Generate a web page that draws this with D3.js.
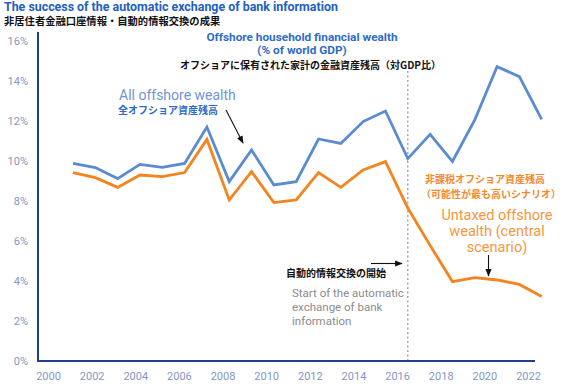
<!DOCTYPE html>
<html>
<head>
<meta charset="utf-8">
<script src="https://cdn.jsdelivr.net/npm/d3@7"></script>
<style>
  body { margin: 0; background: #fff; }
  text { font-family: Roboto, "Noto Sans CJK JP", sans-serif; }
  .jp { font-family: "Noto Sans CJK JP", sans-serif; font-weight: bold; }
</style>
</head>
<body>
<div id="chart"></div>
<script>
'use strict';

var years = [2001, 2002, 2003, 2004, 2005, 2006, 2007, 2008, 2009, 2010, 2011,
             2012, 2013, 2014, 2015, 2016, 2017, 2018, 2019, 2020, 2021, 2022];
var allOffshore = [9.88, 9.67, 9.12, 9.83, 9.68, 9.88, 11.7, 8.97, 10.55, 8.8, 8.97,
                   11.1, 10.88, 11.97, 12.5, 10.12, 11.33, 9.98, 12.05, 14.72, 14.22, 12.08];
var untaxed = [9.42, 9.17, 8.68, 9.3, 9.22, 9.42, 11.08, 8.05, 9.47, 7.92, 8.05,
               9.42, 8.68, 9.55, 9.97, 7.65, 5.78, 3.97, 4.17, 4.05, 3.83, 3.22];
var xTicks = [2000, 2002, 2004, 2006, 2008, 2010, 2012, 2014, 2016, 2018, 2020, 2022];
var yTicks = [0, 2, 4, 6, 8, 10, 12, 14, 16];
var aeoiYear = 2016;

var svgWidth = 567;
var svgHeight = 389;

var svg = d3.select("#chart").append("svg")
    .attr("width", svgWidth)
    .attr("height", svgHeight);

// scales: data points and the category labels sit slightly apart in the original
var x = d3.scaleLinear().domain([2001, 2022]).range([73, 541.7]);
var xLabel = d3.scaleLinear().domain([2000, 2022]).range([48, 528]);
var y = d3.scaleLinear().domain([0, 16]).range([361, 41]);

// axes
var axisColor = "#1f3f8f";
var labelColor = "#8497c6";

svg.append("line")
    .attr("x1", 38).attr("x2", 38)
    .attr("y1", 32).attr("y2", y(0))
    .attr("stroke", axisColor).attr("stroke-width", 2);
svg.append("line")
    .attr("x1", 37).attr("x2", 535)
    .attr("y1", y(0)).attr("y2", y(0))
    .attr("stroke", axisColor).attr("stroke-width", 2);

var yAxis = svg.append("g")
    .attr("transform", "translate(28,0)")
    .call(d3.axisLeft(y).tickValues(yTicks).tickSize(0).tickPadding(0)
      .tickFormat(function(d) { return d + "%"; }));
yAxis.select(".domain").remove();
yAxis.selectAll("text")
    .attr("fill", labelColor)
    .style("font-size", "11px")
    .style("font-family", "Roboto");

var xAxis = svg.append("g")
    .attr("transform", "translate(0,372)")
    .call(d3.axisBottom(xLabel).tickValues(xTicks).tickSize(0).tickPadding(0)
      .tickFormat(d3.format("d")));
xAxis.select(".domain").remove();
xAxis.selectAll("text")
    .attr("fill", labelColor)
    .style("font-size", "11px")
    .style("font-family", "Roboto");

// dotted line for start of AEOI
svg.append("line")
    .attr("x1", x(aeoiYear)).attr("x2", x(aeoiYear))
    .attr("y1", 71).attr("y2", y(0) - 1)
    .attr("stroke", "#9a9a9a")
    .attr("stroke-width", 1.3)
    .attr("stroke-dasharray", "2,2.5");

// lines
var line = function(vals) {
  return d3.line()
    .x(function(d, i) { return x(years[i]); })
    .y(function(d) { return y(d); })(vals);
};

svg.append("path")
    .attr("d", line(allOffshore))
    .attr("fill", "none")
    .attr("stroke", "#5b8bd0")
    .attr("stroke-width", 2.8)
    .attr("stroke-linejoin", "miter");

svg.append("path")
    .attr("d", line(untaxed))
    .attr("fill", "none")
    .attr("stroke", "#f5841f")
    .attr("stroke-width", 2.8)
    .attr("stroke-linejoin", "miter");

// arrow marker
svg.append("defs").append("marker")
    .attr("id", "arrow")
    .attr("viewBox", "0 0 10 10")
    .attr("refX", 9).attr("refY", 5)
    .attr("markerWidth", 7).attr("markerHeight", 7)
    .attr("orient", "auto")
  .append("path")
    .attr("d", "M0,1 L10,5 L0,9 z")
    .attr("fill", "#111");

function arrow(x1, y1, x2, y2) {
  svg.append("line")
      .attr("x1", x1).attr("y1", y1)
      .attr("x2", x2).attr("y2", y2)
      .attr("stroke", "#111").attr("stroke-width", 1.1)
      .attr("marker-end", "url(#arrow)");
}

// titles
svg.append("text")
    .attr("x", 4).attr("y", 11)
    .attr("fill", "#2260c0")
    .style("font-weight", "bold").style("font-size", "12.4px")
    .text("The success of the automatic exchange of bank information");
svg.append("text").attr("class", "jp")
    .attr("x", 4).attr("y", 25)
    .attr("fill", "#111").style("font-size", "10.3px")
    .text("非居住者金融口座情報・自動的情報交換の成果");

svg.append("text")
    .attr("x", 302).attr("y", 40.5)
    .attr("text-anchor", "middle")
    .attr("fill", "#2f6cc4")
    .style("font-weight", "bold").style("font-size", "11.8px")
    .text("Offshore household financial wealth");
svg.append("text")
    .attr("x", 302).attr("y", 53.5)
    .attr("text-anchor", "middle")
    .attr("fill", "#2f6cc4")
    .style("font-weight", "bold").style("font-size", "11.8px")
    .text("(% of world GDP)");
svg.append("text").attr("class", "jp")
    .attr("x", 180).attr("y", 68.5)
    .attr("fill", "#111").style("font-size", "10px")
    .text("オフショアに保有された家計の金融資産残高（対GDP比）");

// all offshore label
svg.append("text")
    .attr("x", 119).attr("y", 100)
    .attr("fill", "#6f96d4").style("font-size", "14px")
    .text("All offshore wealth");
svg.append("text").attr("class", "jp")
    .attr("x", 118).attr("y", 114)
    .attr("fill", "#2f6cc4").style("font-size", "10px")
    .text("全オフショア資産残高");
arrow(226, 110, 243, 143);

// untaxed label
svg.append("text").attr("class", "jp")
    .attr("x", 425).attr("y", 183)
    .attr("fill", "#f5892c").style("font-size", "10px")
    .text("非課税オフショア資産残高");
svg.append("text").attr("class", "jp")
    .attr("x", 421).attr("y", 198)
    .attr("fill", "#f5892c").style("font-size", "10px")
    .text("（可能性が最も高いシナリオ）");
["Untaxed offshore", "wealth (central", "scenario)"].forEach(function(t, i) {
  svg.append("text")
      .attr("x", 497).attr("y", 220 + i * 16)
      .attr("text-anchor", "middle")
      .attr("fill", "#f5973f").style("font-size", "14.5px")
      .text(t);
});
arrow(488.5, 255, 488.5, 276);

// AEOI start label
arrow(371, 263.5, 402, 263.5);
svg.append("text").attr("class", "jp")
    .attr("x", 286).attr("y", 277)
    .attr("fill", "#111").style("font-size", "10px")
    .text("自動的情報交換の開始");
["Start of the automatic", "exchange of bank", "information"].forEach(function(t, i) {
  svg.append("text")
      .attr("x", 292).attr("y", 297 + i * 14)
      .attr("fill", "#8c8c8c").style("font-size", "11.5px")
      .text(t);
});
</script>
</body>
</html>
